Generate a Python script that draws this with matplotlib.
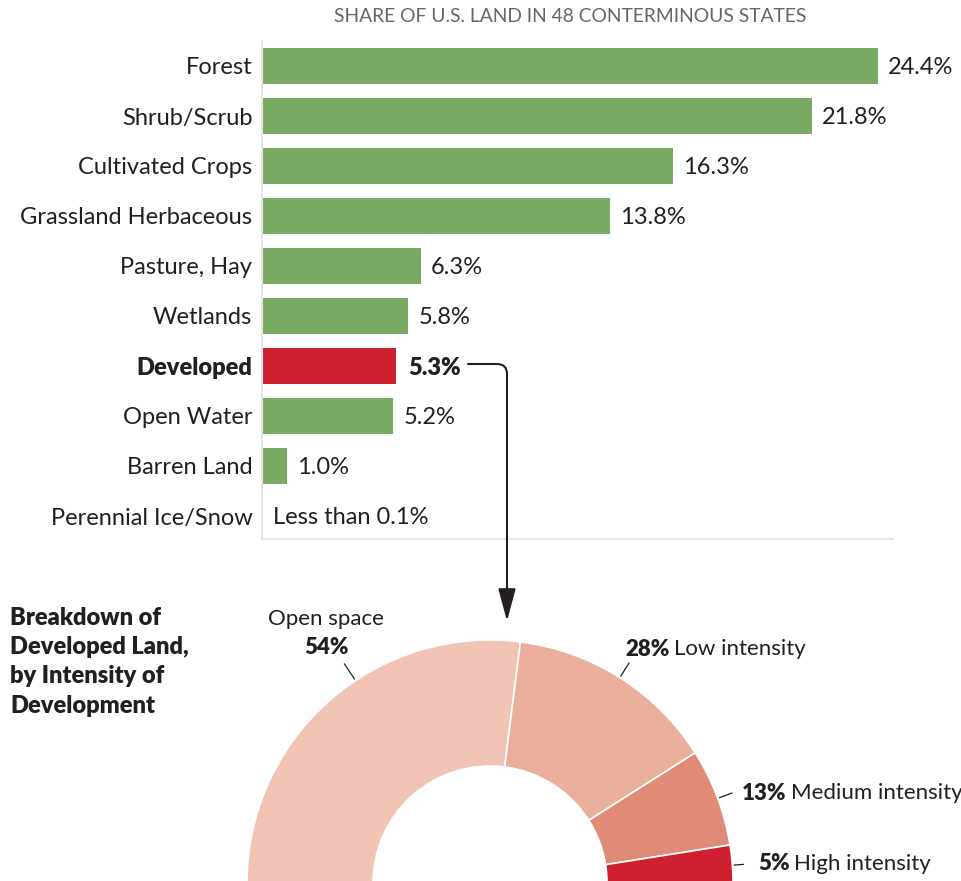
import numpy as np
import matplotlib
matplotlib.use("Agg")
import matplotlib.pyplot as plt

plt.rcParams["font.family"] = ["Lato", "DejaVu Sans"]

# ---- data ----
categories = ["Forest", "Shrub/Scrub", "Cultivated Crops", "Grassland Herbaceous",
              "Pasture, Hay", "Wetlands", "Developed", "Open Water", "Barren Land",
              "Perennial Ice/Snow"]
shares = [24.4, 21.8, 16.3, 13.8, 6.3, 5.8, 5.3, 5.2, 1.0, 0.05]
share_labels = ["24.4%", "21.8%", "16.3%", "13.8%", "6.3%", "5.8%", "5.3%", "5.2%",
                "1.0%", "Less than 0.1%"]
highlight = "Developed"

dev_parts = ["Open space", "Low intensity", "Medium intensity", "High intensity"]
dev_shares = [54, 28, 13, 5]

GREEN = "#78aa64"
RED = "#cf2031"
DONUT_COLORS = ["#f0c3b5", "#eaae9c", "#e08a78", "#cf2031"]
TXT = "#231f20"
AXIS = "#e6e6e6"

W, H = 962, 881
fig = plt.figure(figsize=(W / 100, H / 100), dpi=100)


def px_axes(x0, y0, x1, y1):
    """Axes from pixel box (top-left origin)."""
    return fig.add_axes([x0 / W, 1 - y1 / H, (x1 - x0) / W, (y1 - y0) / H])


# ---- bar chart ----
ax = px_axes(262, 41, 893, 539)
y = np.arange(len(categories))
colors = [RED if c == highlight else GREEN for c in categories]
ax.barh(y, shares, height=0.72, color=colors)
ax.set_xlim(0, 25)
ax.set_ylim(9.46, -0.5)
for s in ["top", "right"]:
    ax.spines[s].set_visible(False)
for s in ["left", "bottom"]:
    ax.spines[s].set_color(AXIS)
    ax.spines[s].set_linewidth(1.5)
ax.set_xticks([])
ax.set_yticks(y)
ax.set_yticklabels(categories, fontsize=17, color=TXT)
ax.tick_params(axis="y", length=0, pad=7)
for lab in ax.get_yticklabels():
    lab.set_va("center_baseline")
    if lab.get_text() == highlight:
        lab.set_fontweight("heavy")

for i, (v, lab, c) in enumerate(zip(shares, share_labels, categories)):
    bold = c == highlight
    ax.text(v + 0.4 if not bold else v + 0.5, i, lab, va="center_baseline", ha="left",
            fontsize=17, color=TXT, fontweight="heavy" if bold else "normal")

fig.text(570 / W, 1 - 17 / H, "SHARE OF U.S. LAND IN 48 CONTERMINOUS STATES",
         ha="center", va="center", fontsize=13.9, color="#666666")

# connector arrow from Developed label to donut
ax.annotate(
    "", xy=(507, H - 621), xycoords="figure pixels",
    xytext=(468, H - 364), textcoords="figure pixels",
    arrowprops=dict(arrowstyle="-|>,head_length=1.0,head_width=0.27",
                    connectionstyle="angle,angleA=0,angleB=90,rad=10",
                    color=TXT, lw=1.5, shrinkA=0, shrinkB=0,
                    mutation_scale=20),
    annotation_clip=False)

# ---- donut ----
cx, cy, R, r_in = 490, 883, 243, 117
pax = px_axes(cx - 260, cy - 260, cx + 260, cy + 260)
wedges, _ = pax.pie(dev_shares + [sum(dev_shares)], radius=R, startangle=180,
                    counterclock=False, colors=DONUT_COLORS + ["none"],
                    wedgeprops=dict(width=R - r_in, edgecolor="white", linewidth=1.2),
                    frame=True)
wedges[-1].set_visible(False)
pax.set_xlim(-260, 260)
pax.set_ylim(-260, 260)
pax.set_aspect("auto")
pax.axis("off")

# leader lines (angle in degrees, outer radius)
leaders = [(123.6, 263), (57.7, 260), (20.4, 258), (4.2, 254)]
for ang, r_out in leaders:
    a = np.deg2rad(ang)
    pax.plot([245 * np.cos(a), r_out * np.cos(a)], [245 * np.sin(a), r_out * np.sin(a)],
             color=TXT, lw=0.9, clip_on=False)

fs = 16
fig.text(326 / W, 1 - 617 / H, dev_parts[0], ha="center", va="center_baseline",
         fontsize=fs, color=TXT)
fig.text(326 / W, 1 - 646 / H, f"{dev_shares[0]}%", ha="center", va="center_baseline",
         fontsize=fs, color=TXT, fontweight="heavy")

for (x0, y0), name, val in zip([(625, 647), (742, 791), (758, 862)],
                               dev_parts[1:], dev_shares[1:]):
    t = fig.text(x0 / W, 1 - y0 / H, f"{val}%", ha="left", va="center_baseline",
                 fontsize=fs, color=TXT, fontweight="heavy")
    fig.canvas.draw()
    bb = t.get_window_extent()
    fig.text((bb.x1 + 4.5) / W, 1 - y0 / H, name, ha="left", va="center_baseline",
             fontsize=fs, color=TXT)

fig.text(10 / W, 1 - 607 / H,
         "Breakdown of\nDeveloped Land,\nby Intensity of\nDevelopment",
         ha="left", va="top", fontsize=17, color=TXT, fontweight="heavy",
         linespacing=1.4)

fig.savefig("out.png", dpi=100)
